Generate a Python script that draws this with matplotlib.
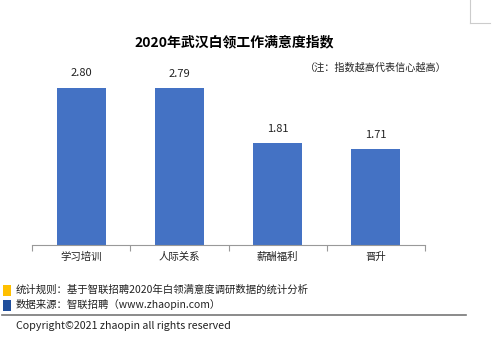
import matplotlib
matplotlib.use("Agg")
import matplotlib.pyplot as plt
from matplotlib.patches import Rectangle
from matplotlib.lines import Line2D

plt.rcParams['font.family'] = ['Noto Sans CJK SC', 'DejaVu Sans']

# data
categories = ['学习培训', '人际关系', '薪酬福利', '晋升']
values = [2.80, 2.79, 1.81, 1.71]
title = '2020年武汉白领工作满意度指数'
note = '（注：指数越高代表信心越高）'
rule_text = '统计规则：基于智联招聘2020年白领满意度调研数据的统计分析'
source_text = '数据来源：智联招聘（www.zhaopin.com）'
copyright_text = 'Copyright©2021 zhaopin all rights reserved'

W, H = 500, 353
fig = plt.figure(figsize=(W / 100, H / 100), dpi=100)

# plot area in pixels: x 32..425, y 60..245
ax = fig.add_axes([32 / W, 1 - 245 / H, (425 - 32) / W, (245 - 60) / H])
x = range(len(categories))
bars = ax.bar(x, values, width=0.5, color='#4472C4')
ax.set_xlim(-0.5, len(categories) - 0.5)
ax.set_ylim(0, 185 / 56.1)

for xi, v in zip(x, values):
    ax.text(xi, v + 0.17, f'{v:.2f}', ha='center', va='bottom', fontsize=8, color='#222222')

for s in ['top', 'right', 'left']:
    ax.spines[s].set_visible(False)
ax.spines['bottom'].set_color('#999999')
ax.spines['bottom'].set_linewidth(0.8)
ax.set_yticks([])
ax.set_xticks([i - 0.5 for i in range(len(categories) + 1)], minor=False)
ax.set_xticklabels([])
ax.tick_params(axis='x', length=4, color='#999999', width=0.8, direction='out')
for xi, c in zip(x, categories):
    ax.text(xi, -0.12, c, ha='center', va='top', fontsize=7.5, color='#222222')

# title and note
fig.text(234 / W, 1 - 42 / H, title, ha='center', va='center', fontsize=10, fontweight='bold')
fig.text(305 / W, 1 - 68 / H, note, ha='left', va='center', fontsize=7.3, color='#222222')

# footer
fig.patches.append(Rectangle((3 / W, 1 - 296 / H), 8 / W, 11 / H, transform=fig.transFigure,
                             facecolor='#FFC000', edgecolor='none'))
fig.patches.append(Rectangle((3 / W, 1 - 311 / H), 8 / W, 11 / H, transform=fig.transFigure,
                             facecolor='#1F4E9C', edgecolor='none'))
fig.text(16 / W, 1 - 290 / H, rule_text, ha='left', va='center', fontsize=7.5, color='#222222')
fig.text(16 / W, 1 - 305 / H, source_text, ha='left', va='center', fontsize=7.5, color='#222222')
fig.lines.append(Line2D([2 / W, 466 / W], [1 - 315 / H, 1 - 315 / H], transform=fig.transFigure,
                        color='#777777', linewidth=1.2))
fig.text(16 / W, 1 - 326 / H, copyright_text, ha='left', va='center', fontsize=7.7, color='#222222')

# corner crop marks
fig.lines.append(Line2D([470 / W, 470 / W], [1, 1 - 23 / H], transform=fig.transFigure,
                        color='#cccccc', linewidth=0.8))
fig.lines.append(Line2D([470 / W, 490 / W], [1 - 23 / H, 1 - 23 / H], transform=fig.transFigure,
                        color='#cccccc', linewidth=0.8))

fig.savefig('out.png', dpi=100)
